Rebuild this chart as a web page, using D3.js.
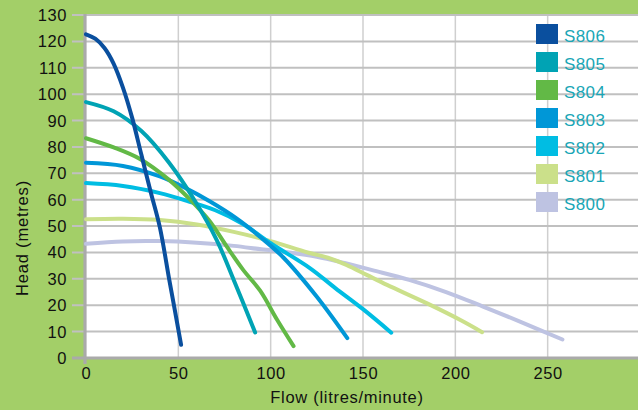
<!DOCTYPE html>
<html>
<head>
<meta charset="utf-8">
<script src="https://cdn.jsdelivr.net/npm/d3@7"></script>
<style>
  html, body { margin: 0; padding: 0; background: #a3cf68; }
  svg { display: block; }
  text { font-family: "Liberation Sans", Arial, Helvetica, sans-serif; }
</style>
</head>
<body>
<svg id="chart" width="638" height="410"></svg>
<script>
// ---- Data ----
const seriesNames = ["S806", "S805", "S804", "S803", "S802", "S801", "S800"];
const seriesColors = ["#0a4f9e", "#00a3b4", "#62b946", "#0097d7", "#00bde3", "#cbe08a", "#bec3e2"];

const S806 = [[0,122.7],[5,121],[10,117.5],[15,111.5],[20,102.5],[25,91],[30,77],[35,63],[40,49.5],[45,30],[48,18.5],[51.5,5]];
const S805 = [[0,97],[15,93.5],[30,86],[45,74],[59,59.5],[70.8,44.7],[80,29.6],[91.6,9.7]];
const S804 = [[0,83.3],[15,79.8],[29,75.5],[45,67.5],[56.4,60],[66.8,52],[76,42.5],[85,33.5],[94.3,25.5],[103.4,14.6],[112.4,4.5]];
const S803 = [[0,74],[20,72.8],[40,68.8],[54.2,64.3],[67.2,59.3],[81.3,53],[95,45.5],[107,38],[125,23.2],[141.5,7.5]];
const S802 = [[0,66.3],[20,65.2],[40,62.5],[55,59.5],[70,56],[85,50.8],[100,43.5],[121.4,34],[135,26.5],[150,18.5],[165.3,9.6]];
const S801 = [[0,52.6],[20,52.8],[40,52.3],[60,50.6],[80,47.8],[100,44.3],[120,40],[131,38],[141,35.3],[152,31.5],[163,27.7],[185,20.6],[203,14.3],[214.5,9.8]];
const S800 = [[0,43.3],[20,44.2],[40,44.3],[60,43.7],[80,42.5],[95,41.2],[110,40],[125,38.4],[140,36],[155,33.3],[175,29.6],[195,25],[215,19.5],[235,13.8],[258,7]];

const seriesData = [S806, S805, S804, S803, S802, S801, S800];

const xTicks = [0, 50, 100, 150, 200, 250];
const yTicks = [0, 10, 20, 30, 40, 50, 60, 70, 80, 90, 100, 110, 120, 130];
const xTitle = "Flow (litres/minute)";
const yTitle = "Head (metres)";

// ---- Layout ----
const svg = d3.select("#chart");
const W = 638, H = 410;
const mLeft = 86, mRight = 640, mTop = 15, mBottom = 358;

const x = d3.scaleLinear().domain([0, 300]).range([mLeft, mRight]);
const y = d3.scaleLinear().domain([0, 130]).range([mBottom, mTop]);

// background
svg.append("rect").attr("x", 0).attr("y", 0).attr("width", W).attr("height", H).attr("fill", "#a3cf68");
// plot area
svg.append("rect").attr("x", mLeft).attr("y", mTop).attr("width", W - mLeft).attr("height", mBottom - mTop).attr("fill", "#ffffff");

// vertical gridlines
svg.append("g").selectAll("line").data(xTicks.filter(d => d > 0)).join("line")
  .attr("x1", d => x(d)).attr("x2", d => x(d))
  .attr("y1", mTop).attr("y2", mBottom)
  .attr("stroke", "#cfcfcf").attr("stroke-width", 1.5);

// horizontal gridlines (extend left as ticks)
svg.append("g").selectAll("line").data(yTicks.filter(d => d > 0)).join("line")
  .attr("x1", 72).attr("x2", W)
  .attr("y1", d => y(d)).attr("y2", d => y(d))
  .attr("stroke", "#c0c0c0").attr("stroke-width", 2);

// axes lines
svg.append("line").attr("x1", 72).attr("x2", W).attr("y1", y(0)).attr("y2", y(0))
  .attr("stroke", "#aaaaaa").attr("stroke-width", 3.2);
svg.append("line").attr("x1", x(0) - 1).attr("x2", x(0) - 1).attr("y1", mTop - 1).attr("y2", 364)
  .attr("stroke", "#aaaaaa").attr("stroke-width", 3.2);

// y tick labels
svg.append("g").selectAll("text").data(yTicks).join("text")
  .attr("x", 67).attr("y", d => y(d) + 6)
  .attr("text-anchor", "end")
  .attr("font-size", "16.5px").attr("letter-spacing", "0.6px")
  .attr("fill", "#111")
  .text(d => d);

// x tick labels
svg.append("g").selectAll("text").data(xTicks).join("text")
  .attr("x", d => x(d) + 0.5).attr("y", 379)
  .attr("text-anchor", "middle")
  .attr("font-size", "16.5px").attr("letter-spacing", "0.6px")
  .attr("fill", "#111")
  .text(d => d);

// axis titles
svg.append("text").attr("x", 347).attr("y", 403)
  .attr("text-anchor", "middle").attr("font-size", "16.5px").attr("letter-spacing", "0.7px")
  .attr("fill", "#111").text(xTitle);
svg.append("text").attr("transform", "translate(28,238) rotate(-90)")
  .attr("text-anchor", "middle").attr("font-size", "16.5px").attr("letter-spacing", "0.8px")
  .attr("fill", "#111").text(yTitle);

// curves
const line = d3.line().x(d => x(d[0])).y(d => y(d[1])).curve(d3.curveCatmullRom.alpha(0.5));
const order = d3.range(seriesData.length).reverse();
svg.append("g").selectAll("path").data(order).join("path")
  .attr("d", i => line(seriesData[i]))
  .attr("fill", "none")
  .attr("stroke", i => seriesColors[i])
  .attr("stroke-width", 4)
  .attr("stroke-linecap", "round")
  .attr("stroke-linejoin", "round");

// legend
const legend = svg.append("g");
const lg = legend.selectAll("g").data(seriesNames).join("g")
  .attr("transform", (d, i) => `translate(536, ${24 + i * 28})`);
lg.append("rect").attr("width", 22).attr("height", 20).attr("fill", (d, i) => seriesColors[i]);
lg.append("text").attr("x", 28).attr("y", 17.5)
  .attr("font-size", "17px").attr("letter-spacing", "0.4px")
  .attr("fill", "#19a6b6").text(d => d);
</script>
</body>
</html>
